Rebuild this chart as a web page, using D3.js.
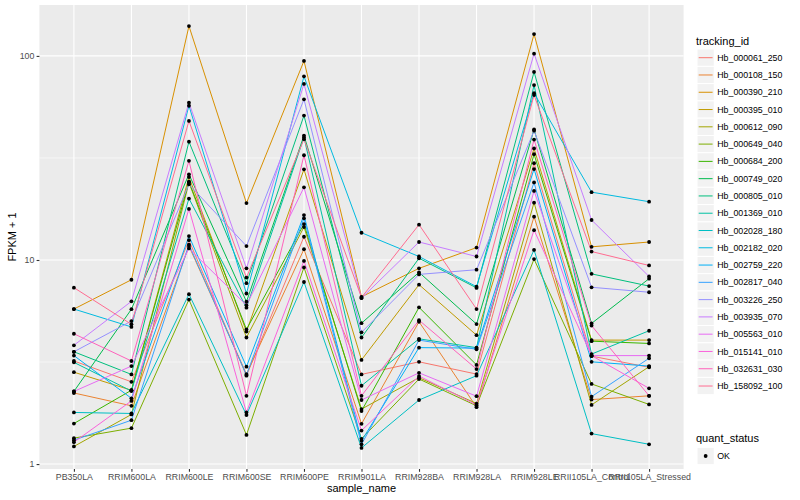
<!DOCTYPE html>
<html>
<head>
<meta charset="utf-8">
<script src="https://cdn.jsdelivr.net/npm/d3@7"></script>
<style>
  html, body { margin: 0; padding: 0; background: #fff; }
  svg { display: block; font-family: "Liberation Sans", Arial, Helvetica, sans-serif; }
</style>
</head>
<body>
<svg id="chart" width="800" height="500"></svg>
<script>
// ---------------- data ----------------
const samples = ["PB350LA","RRIM600LA","RRIM600LE","RRIM600SE","RRIM600PE","RRIM901LA",
                 "RRIM928BA","RRIM928LA","RRIM928LE","RRII105LA_Control","RRII105LA_Stressed"];

const trackingIds = ["Hb_000061_250","Hb_000108_150","Hb_000390_210","Hb_000395_010","Hb_000612_090",
  "Hb_000649_040","Hb_000684_200","Hb_000749_020","Hb_000805_010","Hb_001369_010","Hb_002028_180",
  "Hb_002182_020","Hb_002759_220","Hb_002817_040","Hb_003226_250","Hb_003935_070","Hb_005563_010",
  "Hb_015141_010","Hb_032631_030","Hb_158092_100"];

// FPKM + 1, one array per tracking_id, in sample order
const Hb_000061_250 = [3.20, 2.53, 12.5, 2.71, 13.0, 2.75, 3.17, 2.76, 29.8, 3.38, 2.98];
const Hb_000108_150 = [2.23, 1.93, 11.7, 2.76, 11.3, 1.575, 4.98, 1.90, 16.3, 2.07, 2.16];
const Hb_000390_210 = [5.75, 8.0, 140, 19.0, 94.5, 6.6, 9.1, 11.5, 128, 11.6, 12.25];
const Hb_000395_010 = [2.82, 2.30, 25.5, 4.46, 27.8, 3.24, 7.57, 4.28, 35.2, 4.05, 4.05];
const Hb_000612_090 = [1.22, 1.75, 24.0, 4.17, 14.5, 1.86, 2.65, 1.98, 19.1, 1.95, 3.0];
const Hb_000649_040 = [1.34, 1.50, 6.4, 1.39, 9.2, 1.33, 2.61, 1.93, 10.1, 2.47, 1.96];
const Hb_000684_200 = [1.58, 2.30, 24.2, 4.57, 15.0, 1.82, 5.86, 3.06, 33.0, 4.0, 3.9];
const Hb_000749_020 = [2.27, 5.74, 26.3, 6.25, 40.7, 4.9, 8.7, 4.85, 43.6, 4.89, 8.1];
const Hb_000805_010 = [3.55, 2.75, 38.0, 7.7, 51.0, 4.17, 10.2, 7.3, 83.5, 8.55, 7.45];
const Hb_001369_010 = [3.15, 2.28, 20.0, 5.84, 39.9, 2.42, 4.11, 3.72, 72.0, 3.46, 4.5];
const Hb_002028_180 = [1.79, 1.77, 6.8, 1.74, 7.8, 1.20, 2.06, 2.71, 11.2, 1.41, 1.25];
const Hb_002182_020 = [5.75, 4.70, 57.0, 6.85, 79.4, 13.6, 10.4, 7.4, 65.7, 21.5, 19.3];
const Hb_002759_220 = [3.40, 2.10, 13.1, 3.0, 16.6, 1.30, 3.72, 3.70, 27.9, 3.17, 3.02];
const Hb_002817_040 = [1.31, 1.64, 11.9, 2.73, 16.0, 1.25, 4.05, 3.65, 24.0, 2.14, 3.3];
const Hb_003226_250 = [3.55, 5.02, 23.5, 11.7, 61.3, 4.42, 8.5, 8.96, 43.0, 7.35, 6.95];
const Hb_003935_070 = [3.82, 6.27, 59.0, 9.1, 72.9, 6.5, 12.25, 10.4, 102.6, 15.7, 8.3];
const Hb_005563_010 = [2.27, 3.02, 11.4, 6.0, 22.7, 2.06, 2.80, 2.15, 21.8, 3.4, 3.4];
const Hb_015141_010 = [1.28, 2.04, 17.8, 1.79, 9.9, 1.46, 2.7, 1.95, 14.0, 3.4, 2.35];
const Hb_032631_030 = [4.35, 3.20, 30.6, 2.16, 32.6, 2.16, 5.07, 2.92, 38.9, 4.77, 2.16];
const Hb_158092_100 = [7.32, 4.84, 48.0, 8.2, 39.1, 6.55, 14.9, 5.75, 64.3, 11.0, 9.4];

const seriesValues = [Hb_000061_250, Hb_000108_150, Hb_000390_210, Hb_000395_010, Hb_000612_090,
  Hb_000649_040, Hb_000684_200, Hb_000749_020, Hb_000805_010, Hb_001369_010, Hb_002028_180,
  Hb_002182_020, Hb_002759_220, Hb_002817_040, Hb_003226_250, Hb_003935_070, Hb_005563_010,
  Hb_015141_010, Hb_032631_030, Hb_158092_100];

const yTickValues = [1, 10, 100];
const quantStatus = ["OK"];

// ggplot2 default hue palette for 20 levels
const palette = ["#F8766D","#EA8331","#D89000","#C09B00","#A3A500","#7CAE00","#39B600","#00BB4E",
  "#00BF7D","#00C1A3","#00BFC4","#00BAE0","#00B0F6","#35A2FF","#9590FF","#C77CFF","#E76BF3",
  "#FA62DB","#FF62BC","#FF6C91"];

// ---------------- layout ----------------
const svg = d3.select("#chart");
const panel = { left: 39.4, right: 683.6, top: 5, bottom: 469 };

const series = trackingIds.map((id, i) => ({
  id, color: palette[i],
  values: samples.map((s, j) => ({ sample: s, v: seriesValues[i][j] }))
}));

const allVals = seriesValues.flat();
const lmin = Math.log10(d3.min(allVals)), lmax = Math.log10(d3.max(allVals));
const pad = (lmax - lmin) * 0.05;

const x = d3.scalePoint().domain(samples).range([panel.left, panel.right]).padding(0.6);
const y = d3.scaleLog().domain([Math.pow(10, lmin - pad), Math.pow(10, lmax + pad)])
            .range([panel.bottom, panel.top]);

// panel background
svg.append("rect").attr("x", panel.left).attr("y", panel.top)
  .attr("width", panel.right - panel.left).attr("height", panel.bottom - panel.top)
  .attr("fill", "#EBEBEB");

// minor horizontal grid (midpoints in log space)
const minor = [Math.pow(10, 0.5), Math.pow(10, 1.5)];
svg.append("g").selectAll("line").data(minor).join("line")
  .attr("x1", panel.left).attr("x2", panel.right)
  .attr("y1", d => y(d)).attr("y2", d => y(d))
  .attr("stroke", "#fff").attr("stroke-width", 0.55);

// major grid
svg.append("g").selectAll("line").data(yTickValues).join("line")
  .attr("x1", panel.left).attr("x2", panel.right)
  .attr("y1", d => y(d)).attr("y2", d => y(d))
  .attr("stroke", "#fff").attr("stroke-width", 1.1);
svg.append("g").selectAll("line").data(samples).join("line")
  .attr("x1", d => x(d)).attr("x2", d => x(d))
  .attr("y1", panel.top).attr("y2", panel.bottom)
  .attr("stroke", "#fff").attr("stroke-width", 1.1);

// lines
const line = d3.line().x(d => x(d.sample)).y(d => y(d.v));
svg.append("g").selectAll("path").data(series).join("path")
  .attr("d", d => line(d.values))
  .attr("fill", "none").attr("stroke", d => d.color).attr("stroke-width", 1);

// points
svg.append("g").selectAll("circle")
  .data(series.flatMap(s => s.values)).join("circle")
  .attr("cx", d => x(d.sample)).attr("cy", d => y(d.v)).attr("r", 1.9)
  .attr("fill", "#000");

// axes
const yAxis = d3.axisLeft(y).tickValues(yTickValues).tickFormat(d3.format("d")).tickSize(2.8).tickPadding(2.2);
const gy = svg.append("g").attr("transform", `translate(${panel.left},0)`).call(yAxis);
gy.select(".domain").remove();
gy.selectAll(".tick line").attr("stroke", "#333").attr("stroke-width", 1.1);
gy.selectAll(".tick text").attr("fill", "#4D4D4D").attr("font-size", 8.8)
  .attr("font-family", "Liberation Sans, Arial, sans-serif");

const xAxis = d3.axisBottom(x).tickSize(2.8).tickPadding(2.2);
const gx = svg.append("g").attr("transform", `translate(0,${panel.bottom})`).call(xAxis);
gx.select(".domain").remove();
gx.selectAll(".tick line").attr("stroke", "#333").attr("stroke-width", 1.1);
gx.selectAll(".tick text").attr("fill", "#4D4D4D").attr("font-size", 8.8)
  .attr("font-family", "Liberation Sans, Arial, sans-serif");

// axis titles
svg.append("text").attr("x", (panel.left + panel.right) / 2).attr("y", 492)
  .attr("text-anchor", "middle").attr("font-size", 11).attr("fill", "#000").text("sample_name");
svg.append("text").attr("transform", `translate(16,${(panel.top + panel.bottom) / 2}) rotate(-90)`)
  .attr("text-anchor", "middle").attr("font-size", 11).attr("fill", "#000").text("FPKM + 1");

// legend: tracking_id
const lg = svg.append("g");
const keyX = 697, keyW = 17.28, firstY = 57.7;
lg.append("text").attr("x", keyX - 1).attr("y", 44.5).attr("font-size", 11).attr("fill", "#000").text("tracking_id");
const items = lg.selectAll("g.item").data(series).join("g").attr("class", "item")
  .attr("transform", (d, i) => `translate(${keyX},${firstY + i * keyW - keyW / 2})`);
items.append("rect").attr("width", keyW).attr("height", keyW)
  .attr("fill", "#F2F2F2").attr("stroke", "#fff").attr("stroke-width", 1);
items.append("line").attr("x1", 1.7).attr("x2", keyW - 1.7)
  .attr("y1", keyW / 2).attr("y2", keyW / 2)
  .attr("stroke", d => d.color).attr("stroke-width", 1);
items.append("text").attr("x", keyW + 3).attr("y", keyW / 2 + 3.1)
  .attr("font-size", 8.8).attr("fill", "#000").text(d => d.id);

// legend: quant_status
const lg2 = svg.append("g");
lg2.append("text").attr("x", keyX - 1).attr("y", 442).attr("font-size", 11).attr("fill", "#000").text("quant_status");
const it2 = lg2.selectAll("g.item").data(quantStatus).join("g").attr("class", "item")
  .attr("transform", (d, i) => `translate(${keyX},${456 + i * keyW - keyW / 2})`);
it2.append("rect").attr("width", keyW).attr("height", keyW)
  .attr("fill", "#F2F2F2").attr("stroke", "#fff").attr("stroke-width", 1);
it2.append("circle").attr("cx", keyW / 2).attr("cy", keyW / 2).attr("r", 1.9).attr("fill", "#000");
it2.append("text").attr("x", keyW + 3).attr("y", keyW / 2 + 3.1)
  .attr("font-size", 8.8).attr("fill", "#000").text(d => d);
</script>
</body>
</html>
